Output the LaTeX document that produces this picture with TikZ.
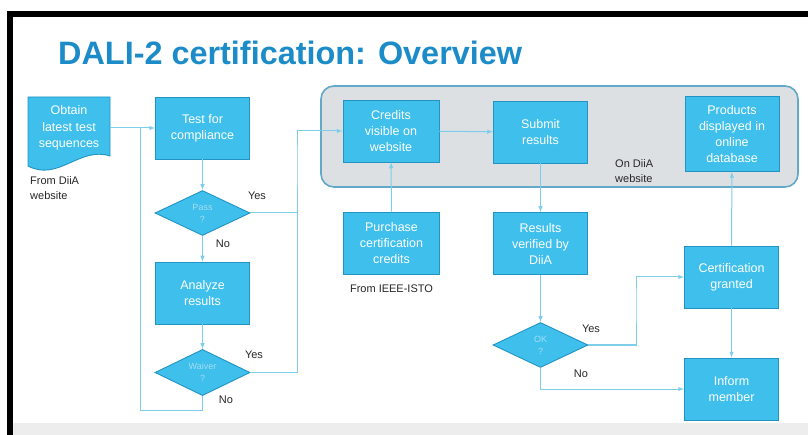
\documentclass[tikz,border=0pt]{standalone}
\usepackage{fontspec}
\setmainfont{Liberation Sans}
\usepackage{tikz}
\usetikzlibrary{shapes.geometric}
\usetikzlibrary{positioning}

\definecolor{boxfill}{HTML}{3EBFEC}
\definecolor{boxline}{HTML}{2394C2}
\definecolor{wire}{HTML}{7DCDEB}
\definecolor{titleblue}{HTML}{1C8CC8}
\definecolor{panelfill}{HTML}{DDE0E3}
\definecolor{panelline}{HTML}{62A8C8}
\definecolor{asktext}{HTML}{A6DDF2}

\begin{document}
\begin{tikzpicture}
    [
    x=1pt, y=-1pt,
    stepbox/.style={rectangle,draw=boxline,fill=boxfill,line width=0.9pt,text=white,
      minimum width=94pt,minimum height=62pt,align=center,inner sep=1pt,
      font=\fontsize{12.5}{16}\selectfont},
    ask/.style={diamond,draw=boxline,fill=boxfill,line width=0.9pt,text=asktext,
      minimum width=95pt,minimum height=45pt,inner sep=0pt,align=center,
      font=\fontsize{9}{12}\selectfont},
    note/.style={text=black!85,align=left,inner sep=0pt,
      font=\fontsize{11}{15}\selectfont},
    wireline/.style={draw=wire,line width=1pt},
    ]
    \useasboundingbox (0,0) rectangle (808,435);
    % frame and panel
    \fill [black] (7,11) rectangle (808,17);
    \fill [black] (7,11) rectangle (13,435);
    \fill [black!7] (13,423) rectangle (808,435);
    \node (title) at (58,65) [anchor=base west,inner sep=0pt,text=titleblue,
      font=\fontsize{32.4}{36}\selectfont\bfseries] {DALI-2 certification: Overview};
    \draw [panelline, fill=panelfill, line width=1.6pt, rounded corners=13pt]
      (321,86) rectangle (798,187);

    % document shape
    \draw [boxline, fill=boxfill, line width=0.9pt]
      (28,97) -- (110,97) -- (110,156)
      .. controls (80,146) and (58,182) .. (28,166) -- cycle;
    \node (obtain) at (69,128) [minimum width=82pt,inner sep=0pt,align=center,text=white,
      font=\fontsize{12.5}{16.5}\selectfont] {Obtain\\latest test\\sequences};
    \node (diia) at (30,188) [note,anchor=west] {From DiiA\\website};

    \node (test) at (202.5,128) [stepbox] {Test for\\compliance};
    \node (pass) at (202.5,213) [ask] {Pass\\?};
    \node (analyze) at (202.5,293) [stepbox] {Analyze\\results};
    \node (waiver) at (202.5,372.5) [ask] {Waiver\\?};

    \node (credits) at (391,131) [stepbox,minimum width=96pt] {Credits\\visible on\\website};
    \node (submit) at (540.5,132) [stepbox] {Submit\\results};
    \node (products) at (732,134) [stepbox,minimum height=75pt] {Products\\displayed in\\online\\database};
    \node (onsite) at (615,171) [note,anchor=west] {On DiiA\\website};

    \node (purchase) at (391.5,243) [stepbox,minimum width=96pt] {Purchase\\certification\\credits};
    \node (ieee) [note,below=10pt of purchase] {From IEEE-ISTO};
    \node (verified) at (540.5,243.5) [stepbox] {Results\\verified by\\DiiA};
    \node (ok) at (540.5,345) [ask] {OK\\?};
    \node (granted) at (731.5,277) [stepbox] {Certification\\granted};
    \node (inform) at (731.5,389) [stepbox] {Inform\\member};

    \node (y1) at (257,196) [note] {Yes};
    \node (n1) at (223,244) [note] {No};
    \node (y2) at (254,355) [note] {Yes};
    \node (n2) at (226,400) [note] {No};
    \node (y3) at (591,329) [note] {Yes};
    \node (n3) at (581,374) [note] {No};

    \draw [wireline, -latex] (obtain.east) to (test.west);
    \draw [wireline, -latex] (test) to (pass);
    \draw [wireline, -latex] (pass) to (analyze);
    \draw [wireline, -latex] (analyze) to (waiver);
    \draw [wireline] (waiver.south) |- (140,410) -- (140,128);
    \draw [wireline, -latex] (pass.east) -| (297,160) |- (credits.west);
    \draw [wireline] (waiver.east) -| (297,213);
    \draw [wireline, -latex] (purchase) to (credits);
    \draw [wireline, -latex] (credits) to (submit);
    \draw [wireline, -latex] (submit) to (verified);
    \draw [wireline, -latex] (verified) to (ok);
    \draw [wireline, -latex] (ok.east) -| (636,300) |- (granted.west);
    \draw [wireline, -latex] (ok.south) |- (inform.west);
    \draw [wireline, -latex] (granted) to (products);
    \draw [wireline, -latex] (granted) to (inform);
  \end{tikzpicture}
\end{document}
